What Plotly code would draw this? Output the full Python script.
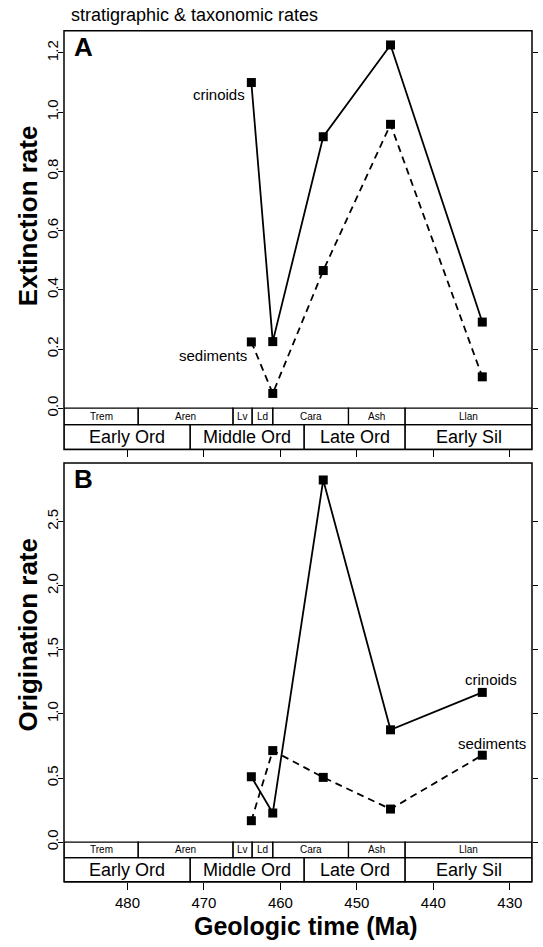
import plotly.graph_objects as go

# ---------------- data ----------------
interval_names = ["Lv", "Ld", "Cara", "Ash", "Llan"]
interval_ages = [463.8, 461.0, 454.4, 445.6, 433.6]

ext_crinoids = [1.100, 0.225, 0.917, 1.227, 0.291]
ext_sediments = [0.224, 0.050, 0.465, 0.959, 0.106]
orig_crinoids = [0.510, 0.227, 2.825, 0.876, 1.168]
orig_sediments = [0.167, 0.714, 0.505, 0.258, 0.678]

stage_names = ["Trem", "Aren", "Lv", "Ld", "Cara", "Ash", "Llan"]
stage_bounds = [490.0, 478.6, 466.2, 463.7, 461.0, 451.1, 443.7, 425.0]
series_names = ["Early Ord", "Middle Ord", "Late Ord", "Early Sil"]
series_bounds = [490.0, 471.8, 456.9, 443.7, 425.0]

x_ticks = [480, 470, 460, 450, 440, 430]
ext_ticks = [0.0, 0.2, 0.4, 0.6, 0.8, 1.0, 1.2]
orig_ticks = [0.0, 0.5, 1.0, 1.5, 2.0, 2.5]

# ---------------- geometry (pixels) ----------------
W, H = 543, 947
L, R = 64, 532
XRANGE = [488.3, 427.1]
FONT = "Liberation Sans, Arial, Helvetica, sans-serif"

def px(x):
    return x / W

def py(y):
    return 1 - y / H

panels = {
    "A": dict(top=31, zero=411.7, stage_bot=428.3, series_bot=453.3, ymax=1.275),
    "B": dict(top=467, zero=849.3, stage_bot=865.0, series_bot=889.3, ymax=2.957),
}

def clip(v):
    return max(min(v, XRANGE[0]), XRANGE[1])

def ann(**kw):
    d = dict(showarrow=False, xanchor="center", yanchor="middle")
    d.update(kw)
    return d

fig = go.Figure()

# crinoids solid, sediments dashed
for xa, ya, cr, se in [("x", "y", ext_crinoids, ext_sediments),
                       ("x2", "y2", orig_crinoids, orig_sediments)]:
    fig.add_trace(go.Scatter(x=interval_ages, y=cr, mode="lines+markers", xaxis=xa, yaxis=ya,
                             line=dict(color="black", width=1.8),
                             marker=dict(symbol="square", size=9, color="black"),
                             showlegend=False, cliponaxis=False))
    fig.add_trace(go.Scatter(x=interval_ages, y=se, mode="lines+markers", xaxis=xa, yaxis=ya,
                             line=dict(color="black", width=1.8, dash="7px,5px"),
                             marker=dict(symbol="square", size=9, color="black"),
                             showlegend=False, cliponaxis=False))

shapes = []
annotations = []
for key, xref in [("A", "x"), ("B", "x2")]:
    p = panels[key]
    shapes.append(dict(type="rect", xref="paper", yref="paper",
                       x0=px(L), x1=px(R), y0=py(p["series_bot"]), y1=py(p["top"]),
                       line=dict(color="black", width=1.5)))
    for i, nm in enumerate(stage_names):
        a, b = clip(stage_bounds[i]), clip(stage_bounds[i + 1])
        shapes.append(dict(type="rect", xref=xref, yref="paper", x0=a, x1=b,
                           y0=py(p["stage_bot"]), y1=py(p["zero"]),
                           line=dict(color="black", width=1.2)))
        annotations.append(ann(xref=xref, yref="paper", x=(a + b) / 2,
                               y=py((p["zero"] + p["stage_bot"]) / 2), text=nm,
                               font=dict(size=10, color="black", family=FONT)))
    for i, nm in enumerate(series_names):
        a, b = clip(series_bounds[i]), clip(series_bounds[i + 1])
        shapes.append(dict(type="rect", xref=xref, yref="paper", x0=a, x1=b,
                           y0=py(p["series_bot"]), y1=py(p["stage_bot"]),
                           line=dict(color="black", width=1.2)))
        annotations.append(ann(xref=xref, yref="paper", x=(a + b) / 2,
                               y=py((p["stage_bot"] + p["series_bot"]) / 2), text=nm,
                               font=dict(size=18, color="black", family=FONT)))

annotations.append(ann(xref="paper", yref="paper", x=px(72), y=py(47), text="<b>A</b>",
                       xanchor="left", font=dict(size=26, color="black", family=FONT)))
annotations.append(ann(xref="paper", yref="paper", x=px(72), y=py(483), text="<b>B</b>",
                       xanchor="left", font=dict(size=26, color="black", family=FONT)))
annotations.append(ann(xref="paper", yref="paper", x=px(69), y=py(15), text="stratigraphic &amp; taxonomic rates",
                       xanchor="left", font=dict(size=18, color="black", family=FONT)))
annotations.append(ann(xref="paper", yref="paper", x=px(28), y=py(218), text="<b>Extinction rate</b>",
                       textangle=-90, font=dict(size=26, color="black", family=FONT)))
annotations.append(ann(xref="paper", yref="paper", x=px(28), y=py(640), text="<b>Origination rate</b>",
                       textangle=-90, font=dict(size=26, color="black", family=FONT)))
annotations.append(ann(xref="paper", yref="paper", x=px(306), y=py(934), text="<b>Geologic time (Ma)</b>",
                       font=dict(size=25, color="black", family=FONT)))
annotations.append(ann(xref="x", yref="y", x=464.4, y=1.059, text="crinoids", xanchor="right",
                       font=dict(size=15, color="black", family=FONT)))
annotations.append(ann(xref="x", yref="y", x=464.1, y=0.179, text="sediments", xanchor="right",
                       font=dict(size=15, color="black", family=FONT)))
annotations.append(ann(xref="x2", yref="y2", x=432.5, y=1.27, text="crinoids",
                       font=dict(size=15, color="black", family=FONT)))
annotations.append(ann(xref="x2", yref="y2", x=432.3, y=0.77, text="sediments",
                       font=dict(size=15, color="black", family=FONT)))

xcommon = dict(domain=[px(L), px(R)], range=XRANGE, tickvals=x_ticks, ticks="outside",
               ticklen=7, tickwidth=1, tickcolor="black", showgrid=False, zeroline=False,
               showline=False, anchor="free",
               tickfont=dict(size=15, color="black", family=FONT))
ycommon = dict(ticks="outside", ticklen=5, tickwidth=1, tickcolor="black", showgrid=False,
               zeroline=False, showline=False, tickangle=-90, mirror="ticks",
               ticklabelstandoff=-6,
               tickfont=dict(size=15, color="black", family=FONT))

fig.update_layout(
    width=W, height=H, margin=dict(l=0, r=0, t=0, b=0),
    paper_bgcolor="white", plot_bgcolor="white",
    showlegend=False,
    xaxis=dict(**xcommon, position=py(panels["A"]["series_bot"]), showticklabels=False),
    xaxis2=dict(**xcommon, position=py(panels["B"]["series_bot"]), showticklabels=True),
    yaxis=dict(**ycommon, anchor="x", domain=[py(panels["A"]["zero"]), py(panels["A"]["top"])],
               range=[0, panels["A"]["ymax"]], tickvals=ext_ticks, tickformat=".1f"),
    yaxis2=dict(**ycommon, anchor="x2", domain=[py(panels["B"]["zero"]), py(panels["B"]["top"])],
                range=[0, panels["B"]["ymax"]], tickvals=orig_ticks, tickformat=".1f"),
    shapes=shapes, annotations=annotations,
)

fig.write_html("out.html")
